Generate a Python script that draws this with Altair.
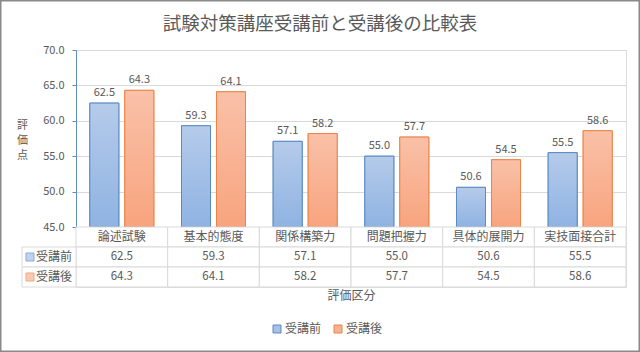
import altair as alt
import pandas as pd

categories = ["論述試験", "基本的態度", "関係構築力", "問題把握力", "具体的展開力", "実技面接合計"]
series_names = ["受講前", "受講後"]
before = [62.5, 59.3, 57.1, 55.0, 50.6, 55.5]
after = [64.3, 64.1, 58.2, 57.7, 54.5, 58.6]
y_ticks = [45, 50, 55, 60, 65, 70]

FONT = "Noto Sans CJK JP"
TXT = "#595959"
GRID = "#d9d9d9"
fill_flat = ["#a6c0e6", "#f7b293"]
stroke_cols = ["#5b8bc5", "#ec8448"]
grad_before = {"gradient": "linear", "x1": 0, "y1": 0, "x2": 0, "y2": 1,
               "stops": [{"offset": 0, "color": "#b5cbea"}, {"offset": 1, "color": "#8fb3e2"}]}
grad_after = {"gradient": "linear", "x1": 0, "y1": 0, "x2": 0, "y2": 1,
              "stops": [{"offset": 0, "color": "#f9c1a8"}, {"offset": 1, "color": "#f8a47e"}]}

W, H_PLOT, ROW_H = 550, 177, 20
H = H_PLOT + 3 * ROW_H
rows = ["cat"] + series_names

# long data for bars
recs = []
for c, b, a in zip(categories, before, after):
    recs.append({"category": c, "series": series_names[0], "value": b})
    recs.append({"category": c, "series": series_names[1], "value": a})
df = pd.DataFrame(recs)

# table data
trecs = []
for c, b, a in zip(categories, before, after):
    trecs.append({"category": c, "row": "cat", "text": c})
    trecs.append({"category": c, "row": series_names[0], "text": f"{b:.1f}"})
    trecs.append({"category": c, "row": series_names[1], "text": f"{a:.1f}"})
df_table = pd.DataFrame(trecs)
df_left = pd.DataFrame({"row": series_names})

x_enc = alt.X(
    "category:N", sort=categories,
    scale=alt.Scale(domain=categories, paddingInner=0, paddingOuter=0),
    axis=alt.Axis(title="評価区分", labels=False, ticks=False, domain=False, grid=False,
                  titlePadding=3, titleFontSize=12, titleColor=TXT, titleFont=FONT,
                  titleFontWeight="normal"),
)
xoff = alt.XOffset("series:N", sort=series_names,
                   scale=alt.Scale(domain=series_names, paddingInner=0.171, paddingOuter=0.395))

y_bar = alt.Y(
    "value:Q",
    scale=alt.Scale(domain=[45, 70], range=[H_PLOT, 0], zero=False, nice=False),
    axis=alt.Axis(values=y_ticks, format=".1f", title=["評", "価", "点"], titleAngle=0,
                  titleX=-54, titleY=69, titleAlign="center", titleBaseline="top",
                  titleLineHeight=15, titleFontSize=11, titleColor=TXT, titleFont=FONT,
                  titleFontWeight="normal", labelFontSize=11, labelColor=TXT, labelFont=FONT,
                  labelPadding=8, tickSize=4, domainColor="#5f8dc4", tickColor="#5f8dc4",
                  gridColor=GRID, grid=True),
)

is_before = alt.datum.series == series_names[0]

legend = alt.Legend(title=None, orient="none", legendX=195, legendY=273, direction="horizontal",
                    symbolType="square", symbolSize=64, symbolStrokeWidth=1, labelFontSize=12,
                    labelColor=TXT, labelFont=FONT, columnPadding=10, labelOffset=2)

bars_base = alt.Chart(df).mark_bar(strokeWidth=1).encode(
    x=x_enc, xOffset=xoff, y=y_bar, y2=alt.datum(45),
    fill=alt.Fill("series:N", sort=series_names, scale=alt.Scale(domain=series_names, range=fill_flat), legend=legend),
    stroke=alt.Stroke("series:N", sort=series_names, scale=alt.Scale(domain=series_names, range=stroke_cols), legend=legend),
)
bars_grad = alt.Chart(df).mark_bar(strokeWidth=1).encode(
    x=x_enc, xOffset=xoff, y=y_bar, y2=alt.datum(45),
    fill=alt.condition(is_before, alt.value(grad_before), alt.value(grad_after)),
    stroke=alt.condition(is_before, alt.value(stroke_cols[0]), alt.value(stroke_cols[1])),
)
bar_labels = alt.Chart(df).mark_text(font=FONT, fontSize=11, color=TXT, baseline="alphabetic", dy=-7).encode(
    x=x_enc, xOffset=xoff, y=y_bar, text=alt.Text("value:Q", format=".1f"),
)
bars_group = alt.layer(bars_base, bars_grad, bar_labels)

y_tab = alt.Y("row:N", sort=rows,
              scale=alt.Scale(domain=rows, range=[H_PLOT, H], paddingInner=0, paddingOuter=0),
              axis=None)
is_before_row = alt.datum.row == series_names[0]

cells = alt.Chart(df_table).mark_rect(fill="white", stroke=GRID, strokeWidth=1).encode(x=x_enc, y=y_tab)
cell_text = alt.Chart(df_table).mark_text(font=FONT, color=TXT).encode(
    x=x_enc, y=y_tab, text="text:N",
    size=alt.condition(alt.datum.row == "cat", alt.value(12), alt.value(11.5)),
)
left_rect = alt.Chart(df_left).mark_rect(fill="white", stroke=GRID, strokeWidth=1).encode(
    x=alt.value(-54), x2=alt.value(0), y=y_tab)
left_sq = alt.Chart(df_left).mark_square(size=64, filled=True, strokeWidth=1).encode(
    x=alt.value(-46), y=y_tab,
    fill=alt.condition(is_before_row, alt.value(fill_flat[0]), alt.value(fill_flat[1])),
    stroke=alt.condition(is_before_row, alt.value(stroke_cols[0]), alt.value(stroke_cols[1])),
)
left_text = alt.Chart(df_left).mark_text(font=FONT, fontSize=12, color=TXT, align="left").encode(
    x=alt.value(-40), y=y_tab, text="row:N")
table_group = alt.layer(cells, cell_text, left_rect, left_sq, left_text)

frame = alt.Chart(pd.DataFrame({"a": [0]})).mark_rect(fill="transparent", stroke="#8a8a8a", strokeWidth=1.5).encode(
    x=alt.value(-75.25), x2=alt.value(563.25), y=alt.value(-49.25), y2=alt.value(301.25))

chart = alt.layer(bars_group, table_group, frame).resolve_scale(y="independent").properties(
    width=W, height=H,
    autosize=alt.AutoSizeParams(type="none"),
    padding={"left": 76, "top": 50, "right": 14, "bottom": 65},
    title=alt.TitleParams(text="試験対策講座受講前と受講後の比較表", fontSize=18.5, color=TXT,
                          fontWeight="normal", font=FONT, anchor="middle", frame="group",
                          dx=-31, offset=-33),
).configure_view(stroke=None).configure(font=FONT, background="white")

chart.save("out.html", embed_options={"renderer": "svg", "actions": False})
